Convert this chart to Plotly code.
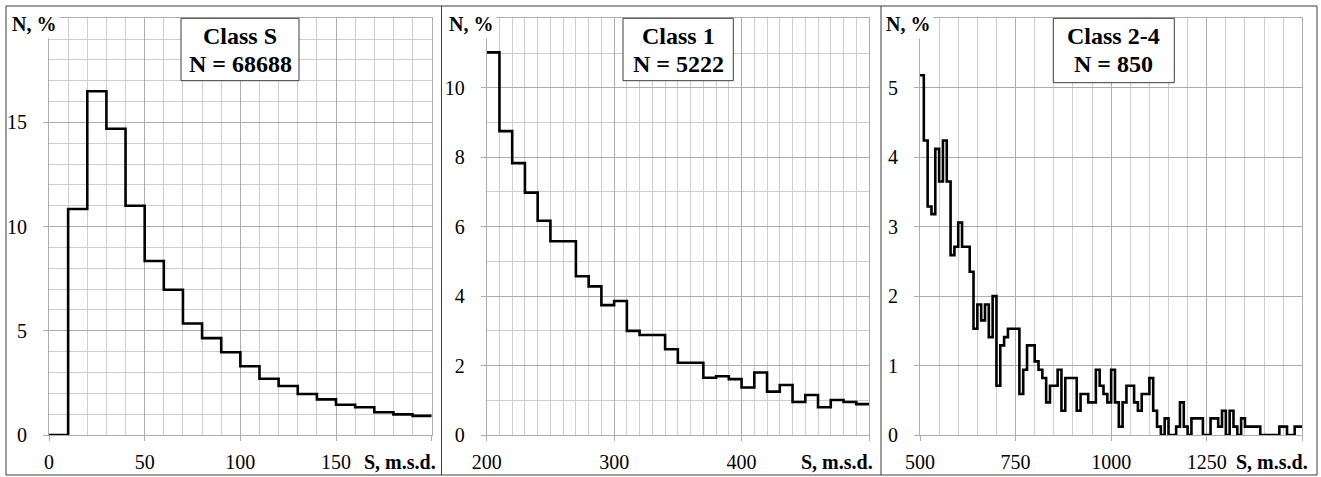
import plotly.graph_objects as go

# ---- histogram data (percent of events per bin) ----
# Class S: bins of 10 m.s.d. starting at 0
class_s_start = 0
class_s_width = 10
class_s_pct = [0.0, 10.85, 16.5, 14.7, 11.0, 8.35, 6.97, 5.35, 4.65, 3.97,
               3.3, 2.7, 2.35, 1.97, 1.71, 1.45, 1.33, 1.09, 0.99, 0.92]

# Class 1: bins of 10 m.s.d. starting at 200
class_1_start = 200
class_1_width = 10
class_1_pct = [11.02, 8.75, 7.83, 6.98, 6.17, 5.58, 5.58, 4.57, 4.28, 3.74,
               3.86, 3.0, 2.88, 2.88, 2.47, 2.08, 2.08, 1.65, 1.69, 1.61,
               1.37, 1.8, 1.25, 1.44, 0.95, 1.15, 0.8, 1.01, 0.95, 0.89]

# Class 2-4: bins of 10 m.s.d. starting at 500
class_24_start = 500
class_24_width = 10
class_24_pct = [5.18, 4.24, 3.29, 3.18, 4.12, 3.65, 4.24, 3.65, 2.59, 2.71,
                3.06, 2.71, 2.71, 2.35, 1.53, 1.88, 1.65, 1.88, 1.41, 2.00,
                0.71, 1.29, 1.41, 1.53, 1.53, 1.53, 0.59, 0.94, 1.29, 1.29,
                1.06, 0.94, 0.82, 0.47, 0.71, 0.71, 0.94, 0.35, 0.82, 0.82,
                0.82, 0.35, 0.59, 0.59, 0.47, 0.47, 0.94, 0.71, 0.59, 0.47,
                0.94, 0.47, 0.12, 0.47, 0.71, 0.71, 0.47, 0.35, 0.59, 0.59,
                0.82, 0.35, 0.12, 0.0, 0.24, 0.0, 0.0, 0.12, 0.47, 0.12,
                0.0, 0.24, 0.24, 0.24, 0.0, 0.0, 0.24, 0.24, 0.12, 0.35,
                0.0, 0.35, 0.12, 0.0, 0.24, 0.12, 0.12, 0.12, 0.12, 0.0,
                0.0, 0.0, 0.0, 0.0, 0.12, 0.12, 0.0, 0.0, 0.12, 0.12]

titles = [("Class S", "N = 68688"), ("Class 1", "N = 5222"), ("Class 2-4", "N = 850")]

# axis ticks
x1_ticks = [0, 50, 100, 150, 200]
x2_ticks = [200, 300, 400, 500]
x3_ticks = [500, 750, 1000, 1250, 1500]
y1_ticks = [0, 5, 10, 15, 20]
y2_ticks = [0, 2, 4, 6, 8, 10, 12]
y3_ticks = [0, 1, 2, 3, 4, 5, 6]

W, H = 1321, 477
SERIF = "'Liberation Serif', Tinos, 'DejaVu Serif', 'Noto Serif', serif"


def edges(start, width, values):
    xs = [start + i * width for i in range(len(values) + 1)]
    ys = list(values) + [values[-1]]
    return xs, ys


def px(x):
    return x / W


def py(y):
    return 1 - y / H


fig = go.Figure()
series = [(class_s_start, class_s_width, class_s_pct),
          (class_1_start, class_1_width, class_1_pct),
          (class_24_start, class_24_width, class_24_pct)]
for i, (st, wd, vals) in enumerate(series):
    xs, ys = edges(st, wd, vals)
    fig.add_trace(go.Scatter(
        x=xs, y=ys, mode="lines", line=dict(color="black", width=2.6, shape="hv"),
        xaxis="x" if i == 0 else f"x{i+1}", yaxis="y" if i == 0 else f"y{i+1}",
        showlegend=False, hoverinfo="skip"))

MAJOR = "#adadad"
MINOR = "#cdcdcd"


def axis_style(**kw):
    base = dict(showgrid=True, gridcolor=MAJOR, gridwidth=1, zeroline=False,
                showline=True, linecolor=MAJOR, linewidth=1, mirror=True,
                ticks="outside", ticklen=5, tickcolor=MAJOR, automargin=False,
                tickfont=dict(family=SERIF, size=20, color="black"),
                fixedrange=True)
    base.update(kw)
    return base


ydom = [py(435), py(18.3)]
panels = [
    dict(dom=[px(49), px(431.7)], xr=[0, 200], xt=x1_ticks, xminor=10,
         yr=[0, 20], yt=y1_ticks, yminor=1),
    dict(dom=[px(486.7), px(869)], xr=[200, 500], xt=x2_ticks, xminor=10,
         yr=[0, 12], yt=y2_ticks, yminor=1),
    dict(dom=[px(920), px(1302.3)], xr=[500, 1500], xt=x3_ticks, xminor=50,
         yr=[0, 6], yt=y3_ticks, yminor=None),
]

layout = dict(width=W, height=H, margin=dict(l=0, r=0, t=0, b=0, autoexpand=False),
              paper_bgcolor="white", plot_bgcolor="white",
              font=dict(family=SERIF))
for i, p in enumerate(panels):
    sx = "" if i == 0 else str(i + 1)
    xtext = [str(v) for v in p["xt"][:-1]] + [""]
    ytext = [str(v) for v in p["yt"][:-1]] + [""]
    xa = axis_style(domain=p["dom"], range=p["xr"], tickmode="array",
                    tickvals=p["xt"], ticktext=xtext, anchor="y" + sx,
                    ticklabelstandoff=4,
                    minor=dict(dtick=p["xminor"], tick0=p["xr"][0], showgrid=True,
                               gridcolor=MINOR, gridwidth=1, ticks=""))
    ya_kw = dict(domain=ydom, range=p["yr"], tickmode="array", tickvals=p["yt"],
                 ticktext=ytext, anchor="x" + sx, ticklabelstandoff=12)
    if p["yminor"]:
        ya_kw["minor"] = dict(dtick=p["yminor"], tick0=0, showgrid=True,
                              gridcolor=MINOR, gridwidth=1, ticks="")
    ya = axis_style(**ya_kw)
    layout["xaxis" + sx] = xa
    layout["yaxis" + sx] = ya
fig.update_layout(**layout)

shapes = []
# outer frame and panel separators
FRAME = "#3c3c3c"
for y in (6, 475):
    shapes.append(dict(type="line", xref="paper", yref="paper", x0=px(6), x1=px(1317),
                       y0=py(y), y1=py(y), line=dict(color=FRAME, width=1)))
for x in (6, 441.5, 881, 1317):
    shapes.append(dict(type="line", xref="paper", yref="paper", x0=px(x), x1=px(x),
                       y0=py(6), y1=py(475), line=dict(color=FRAME, width=1)))

# title boxes
boxes = [(181, 299, 80.7), (623, 733.3, 80.7), (1053.3, 1174.3, 82.7)]
annotations = []
for (x0, x1, yb), (t1, t2) in zip(boxes, titles):
    shapes.append(dict(type="rect", xref="paper", yref="paper", x0=px(x0), x1=px(x1),
                       y0=py(yb), y1=py(18.3), fillcolor="white",
                       line=dict(color=FRAME, width=1), layer="above"))
    cx = px((x0 + x1) / 2)
    for txt, yy in ((t1, 35.5), (t2, 64.5)):
        annotations.append(dict(xref="paper", yref="paper", x=cx, y=py(yy),
                                xanchor="center", yanchor="middle", showarrow=False,
                                text=f"<b>{txt}</b>",
                                font=dict(family=SERIF, size=24, color="black")))

# axis captions
for cx in (33.5, 471, 908):
    annotations.append(dict(xref="paper", yref="paper", x=px(cx), y=py(24),
                            xanchor="center", yanchor="middle", showarrow=False,
                            text="<b>N, %</b>", bgcolor="white", borderpad=3,
                            font=dict(family=SERIF, size=20, color="black")))
for cx in (400, 837, 1271.7):
    annotations.append(dict(xref="paper", yref="paper", x=px(cx), y=py(461.5),
                            xanchor="center", yanchor="middle", showarrow=False,
                            text="<b>S, m.s.d.</b>",
                            font=dict(family=SERIF, size=20, color="black")))

fig.update_layout(shapes=shapes, annotations=annotations)
fig.write_html("out.html")
